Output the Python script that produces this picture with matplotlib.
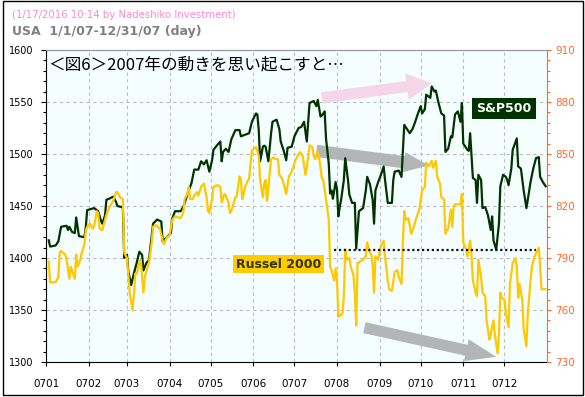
import numpy as np
import pandas as pd
import matplotlib
matplotlib.use('Agg')
import matplotlib.pyplot as plt
import matplotlib.dates as mdates
from matplotlib.patches import Rectangle
from matplotlib.ticker import MultipleLocator, FixedLocator

# --- data (days after 2007-01-01, close) ---
spx_days = [2, 3, 7, 9, 11, 15, 16, 17, 19, 21, 22, 23, 24, 28, 29, 30, 35, 38, 40, 41,
            43, 44, 46, 49, 51, 52, 55, 56, 57, 59, 60, 62, 64, 66, 68, 70, 71, 73, 75, 78,
            81, 84, 85, 88, 91, 92, 94, 98, 100, 102, 104, 106, 108, 111, 113, 115, 117, 119, 121, 122,
            125, 127, 128, 129, 131, 133, 135, 138, 141, 142, 144, 148, 150, 153, 154, 155, 156, 158, 159, 160,
            162, 164, 165, 168, 170, 171, 173, 175, 176, 179, 181, 184, 186, 188, 190, 191, 192, 195, 197, 198,
            200, 201, 203, 204, 206, 207, 208, 209, 211, 212, 213, 214, 215, 217, 218, 220, 221, 223, 225, 226,
            227, 228, 231, 233, 234, 236, 238, 239, 240, 242, 244, 246, 247, 249, 252, 253, 254, 257, 259, 260,
            261, 263, 265, 267, 269, 271, 273, 274, 276, 277, 280, 281, 283, 284, 286, 288, 290, 291, 293, 295,
            296, 298, 300, 302, 303, 304, 307, 308, 309, 311, 313, 314, 315, 317, 318, 320, 322, 324, 325, 326,
            328, 330, 331, 333, 335, 336, 337, 339, 340, 343, 344, 346, 348, 350, 351, 353, 355, 357, 359, 360,
            362, 364]
spx_vals = [1417, 1411, 1412, 1416, 1430, 1431, 1427, 1430, 1425, 1424, 1439, 1430, 1421, 1420, 1430, 1446, 1448, 1445, 1436, 1433,
            1441, 1456, 1457, 1459, 1454, 1450, 1449, 1449, 1400, 1403, 1387, 1374, 1385, 1395, 1406, 1403, 1388, 1395, 1398, 1433,
            1437, 1435, 1416, 1420, 1424, 1438, 1445, 1445, 1449, 1457, 1465, 1472, 1485, 1485, 1493, 1490, 1494, 1483, 1494, 1504,
            1509, 1512, 1493, 1502, 1505, 1502, 1514, 1523, 1523, 1517, 1518, 1520, 1531, 1539, 1538, 1523, 1493, 1507, 1508, 1507,
            1493, 1520, 1531, 1533, 1524, 1512, 1504, 1494, 1506, 1507, 1517, 1525, 1526, 1531, 1512, 1530, 1549, 1551, 1546, 1552,
            1536, 1537, 1541, 1515, 1491, 1462, 1465, 1457, 1473, 1466, 1440, 1449, 1456, 1475, 1496, 1475, 1461, 1453, 1453, 1409,
            1427, 1445, 1448, 1465, 1478, 1471, 1456, 1433, 1465, 1473, 1480, 1488, 1475, 1453, 1453, 1475, 1483, 1484, 1478, 1504,
            1528, 1524, 1520, 1524, 1531, 1539, 1546, 1539, 1543, 1557, 1554, 1565, 1560, 1561, 1549, 1539, 1537, 1502, 1505, 1517,
            1516, 1538, 1541, 1531, 1549, 1510, 1504, 1503, 1520, 1477, 1475, 1453, 1480, 1475, 1448, 1449, 1441, 1427, 1440, 1417,
            1408, 1433, 1469, 1480, 1478, 1475, 1470, 1486, 1504, 1515, 1488, 1486, 1465, 1448, 1456, 1473, 1486, 1496, 1497, 1478,
            1473, 1469]

rut_days = [2, 3, 7, 9, 10, 11, 14, 15, 17, 18, 21, 22, 23, 25, 26, 28, 29, 30, 32, 34,
            35, 37, 38, 39, 41, 43, 44, 46, 49, 51, 52, 54, 56, 57, 59, 60, 61, 63, 64, 65,
            66, 68, 69, 71, 72, 73, 75, 77, 78, 80, 83, 85, 86, 88, 90, 92, 94, 98, 100, 101,
            103, 104, 105, 107, 108, 110, 111, 113, 115, 117, 118, 119, 121, 122, 125, 127, 128, 130, 131, 133,
            134, 135, 138, 139, 141, 142, 143, 144, 145, 148, 150, 153, 155, 156, 158, 159, 160, 161, 162, 164,
            166, 167, 169, 170, 172, 173, 175, 177, 179, 182, 185, 187, 189, 190, 192, 194, 195, 196, 198, 199,
            201, 202, 204, 206, 207, 208, 210, 211, 212, 213, 216, 217, 218, 219, 221, 222, 224, 225, 226, 227,
            229, 231, 233, 234, 236, 237, 238, 239, 240, 242, 244, 246, 247, 249, 250, 252, 254, 256, 257, 259,
            260, 261, 262, 264, 266, 268, 269, 272, 274, 276, 277, 279, 281, 282, 284, 285, 287, 288, 290, 291,
            293, 295, 296, 297, 298, 302, 303, 304, 306, 307, 309, 310, 311, 313, 314, 315, 317, 318, 320, 321,
            323, 324, 326, 327, 329, 330, 331, 332, 334, 335, 337, 338, 340, 342, 343, 344, 345, 347, 348, 350,
            351, 353, 354, 356, 359, 360, 361, 364]
rut_vals = [788, 776, 776, 779, 793, 794, 792, 789, 778, 785, 778, 792, 785, 789, 793, 798, 806, 808, 810, 807,
            808, 817, 816, 807, 806, 812, 815, 819, 823, 828, 828, 825, 824, 793, 790, 780, 770, 760, 768, 781,
            781, 787, 789, 770, 779, 782, 787, 799, 808, 809, 807, 800, 798, 802, 803, 812, 814, 813, 816, 824,
            827, 831, 824, 824, 826, 828, 826, 831, 833, 825, 817, 816, 824, 831, 832, 831, 822, 827, 826, 822,
            816, 817, 825, 826, 837, 835, 824, 827, 831, 836, 852, 854, 849, 835, 825, 833, 835, 823, 831, 847,
            848, 847, 847, 838, 836, 833, 827, 837, 840, 847, 851, 849, 838, 842, 855, 854, 849, 847, 851, 848,
            836, 835, 824, 812, 785, 783, 777, 784, 777, 756, 758, 768, 795, 789, 790, 785, 780, 770, 751, 787,
            788, 789, 791, 799, 793, 792, 785, 770, 791, 789, 797, 800, 791, 777, 772, 771, 782, 783, 779, 775,
            799, 817, 812, 813, 804, 808, 811, 818, 829, 831, 845, 843, 846, 842, 846, 837, 833, 825, 824, 804,
            807, 818, 808, 820, 821, 821, 827, 799, 795, 791, 800, 791, 777, 770, 768, 789, 779, 770, 768, 754,
            743, 746, 754, 746, 735, 746, 770, 767, 766, 758, 750, 775, 787, 790, 785, 767, 775, 766, 749, 739,
            758, 777, 785, 791, 796, 785, 772, 772]

month_labels = ['0701', '0702', '0703', '0704', '0705', '0706',
                '0707', '0708', '0709', '0710', '0711', '0712']
support_level = 1408   # dotted line at the Aug/Nov S&P lows

start = pd.Timestamp('2007-01-01')
spx_dates = start + pd.to_timedelta(spx_days, unit='D')
rut_dates = start + pd.to_timedelta(rut_days, unit='D')
month_starts = pd.date_range('2007-01-01', periods=12, freq='MS')

plt.rcParams['font.family'] = ['DejaVu Sans']

fig = plt.figure(figsize=(5.85, 3.97), dpi=100)
ax1 = fig.add_axes([46 / 585, 35 / 397, 501 / 585, 312 / 397])
ax2 = ax1.twinx()

ax1.set_facecolor('#f4fefe')

# --- arrows (behind the lines) ---
def day(n):
    return mdates.date2num(start + pd.Timedelta(days=n))

ax1.annotate('', xy=(day(281), 1568), xytext=(day(201), 1554),
             arrowprops=dict(arrowstyle='simple,head_length=0.45,head_width=0.48,tail_width=0.2',
                             mutation_scale=40, fc='#f4d6e8', ec='none', shrinkA=0, shrinkB=0),
             zorder=1.5)
ax1.annotate('', xy=(day(279), 1489), xytext=(day(197), 1503),
             arrowprops=dict(arrowstyle='simple,head_length=0.45,head_width=0.36,tail_width=0.22',
                             mutation_scale=40, fc='#b2b6b6', ec='none', shrinkA=0, shrinkB=0),
             zorder=1.5)
ax1.annotate('', xy=(day(328), 1305), xytext=(day(232), 1333),
             arrowprops=dict(arrowstyle='simple,head_length=0.55,head_width=0.4,tail_width=0.2',
                             mutation_scale=40, fc='#b2b6b6', ec='none', shrinkA=0, shrinkB=0),
             zorder=1.5)

ax1.plot(spx_dates, spx_vals, color='#003300', lw=1.6, zorder=2)
ax2.plot(rut_dates, rut_vals, color='#ffc800', lw=1.6, zorder=2)

# dotted support line (drawn over both series)
ax2.plot([start + pd.Timedelta(days=210), start + pd.Timedelta(days=357)],
         [support_level, support_level], transform=ax1.transData,
         color='#111111', lw=1.6, ls=(0, (1, 1.2)), zorder=3)

ax1.set_xlim(start, pd.Timestamp('2008-01-01'))
ax1.set_ylim(1300, 1600)
ax2.set_ylim(730, 910)

ax1.set_xticks(month_starts)
ax1.set_xticklabels(month_labels)
ax1.yaxis.set_major_locator(MultipleLocator(50))
ax1.yaxis.set_minor_locator(MultipleLocator(10))
ax2.yaxis.set_major_locator(FixedLocator(np.arange(730, 911, 30)))
ax2.yaxis.set_minor_locator(FixedLocator(np.arange(730, 911, 6)))

ax1.grid(True, which='major', color='#bdbdbd', ls=(0, (3, 3)), lw=0.8)
ax1.set_axisbelow(True)

ax1.tick_params(axis='y', which='major', length=3.6, width=0.8, pad=5.5, labelsize=7, colors='black')
ax1.tick_params(axis='y', which='minor', length=2.2, width=0.8)
ax1.tick_params(axis='x', length=3, width=0.8, pad=9.5, labelsize=7.5)
ax2.tick_params(axis='y', which='major', length=3, width=0.8, pad=3, labelsize=7.5,
                colors='#ff6a2a')
ax2.tick_params(axis='y', which='minor', length=2, width=0.8, colors='#ff6a2a')

for s in ['left', 'bottom']:
    ax1.spines[s].set_color('black')
ax1.spines['top'].set_color('#999999')
ax1.spines['right'].set_visible(False)
ax2.spines['right'].set_color('#ff6a2a')
ax2.spines['top'].set_color('#999999')
ax2.spines['left'].set_visible(False)
ax2.spines['bottom'].set_visible(False)

# --- texts ---
ax2.text(0.004, 0.952, '＜図6＞2007年の動きを思い起こすと…', transform=ax1.transAxes,
         fontsize=12, family=['Noto Sans CJK JP', 'DejaVu Sans'], va='center', ha='left',
         color='black', zorder=4)
ax2.text(0.914, 0.814, 'S&P500', transform=ax1.transAxes, fontsize=9, fontweight='bold',
         color='white', va='center', ha='center', zorder=4,
         bbox=dict(boxstyle='square,pad=0.32', fc='#003300', ec='none'))
ax2.text(0.464, 0.314, 'Russel 2000', transform=ax1.transAxes, fontsize=9, fontweight='bold',
         color='#333300', va='center', ha='center', zorder=4,
         bbox=dict(boxstyle='square,pad=0.22', fc='#ffcc00', ec='none'))

fig.text(12 / 585, 1 - 15 / 397, '(1/17/2016 10:14 by Nadeshiko Investment)',
         fontsize=7.3, color='#ff88cc', va='center', ha='left')
fig.text(12 / 585, 1 - 32 / 397, 'USA  1/1/07-12/31/07 (day)',
         fontsize=9, fontweight='bold', color='#808080', va='center', ha='left')

fig.add_artist(Rectangle((3 / 585, 2 / 397), 580 / 585, 394 / 397, transform=fig.transFigure,
                         fill=False, ec='black', lw=1))

fig.savefig('out.png', dpi=100)
